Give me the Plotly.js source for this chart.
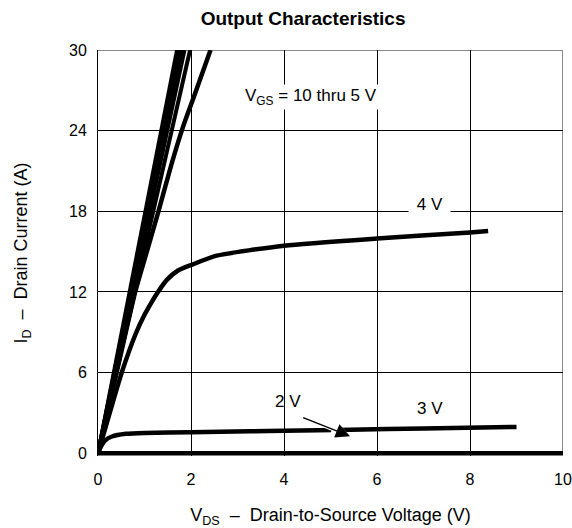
<!DOCTYPE html>
<html>
<head>
<meta charset="utf-8">
<script src="https://cdn.plot.ly/plotly-3.0.1.min.js"></script>
<style>html,body{margin:0;padding:0;background:#fff;}#chart{width:572px;height:528px;}</style>
</head>
<body>
<div id="chart"></div>
<script>
// Drain current curves (VDS in V, ID in A)
const vds10 = [0, 1.70];  const id10 = [0, 30];
const vds9  = [0, 1.75];  const id9  = [0, 30];
const vds8  = [0, 1.80];  const id8  = [0, 30];
const vds7  = [0, 1.86];  const id7  = [0, 30];
const vds6  = [0, 1.98];  const id6  = [0, 30];
const vds5  = [0, 0.4, 0.8, 1.05, 1.3, 1.58, 1.83, 2.07, 2.42];
const id5   = [0, 6.0, 12.0, 15.0, 18.0, 21.5, 24.3, 26.6, 30];
const vds4  = [0, 0.26, 0.51, 0.8, 1.0, 1.18, 1.29, 1.48, 1.72, 2.0, 2.55, 4, 6, 8, 8.39];
const id4   = [0, 3.1, 6.0, 8.8, 10.3, 11.4, 12.0, 12.9, 13.6, 14.0, 14.7, 15.44, 15.98, 16.43, 16.53];
const vds3  = [0, 0.08, 0.15, 0.3, 0.6, 1.0, 2.0, 3.27, 4, 5.42, 7, 9.0];
const id3   = [0, 0.6, 0.95, 1.25, 1.45, 1.52, 1.56, 1.64, 1.68, 1.76, 1.85, 1.96];
const vds2  = [0, 10];
const id2   = [0, 0];

const xTicks = [0, 2, 4, 6, 8, 10];
const yTicks = [0, 6, 12, 18, 24, 30];

const curveLabels = ['VGS = 10 V','VGS = 9 V','VGS = 8 V','VGS = 7 V','VGS = 6 V','VGS = 5 V','VGS = 4 V','VGS = 3 V','VGS = 2 V'];
const xs = [vds10, vds9, vds8, vds7, vds6, vds5, vds4, vds3, vds2];
const ys = [id10, id9, id8, id7, id6, id5, id4, id3, id2];

const FONT = 'Liberation Sans, Arial, Helvetica, sans-serif';

const traces = xs.map((x, i) => ({
  x: x, y: ys[i], name: curveLabels[i], type: 'scatter', mode: 'lines',
  line: {color: '#000', width: i < 5 ? 4 : 4.5, shape: 'spline', smoothing: 0.6},
  cliponaxis: false, hoverinfo: 'skip'
}));

const layout = {
  width: 572, height: 528,
  margin: {l: 98, r: 9, t: 50, b: 72},
  paper_bgcolor: '#fff', plot_bgcolor: '#fff',
  showlegend: false,
  font: {family: FONT, color: '#000', size: 16},
  title: {text: '<b>Output Characteristics</b>', font: {family: FONT, size: 19, color: '#000'},
          x: 0.441, xref: 'paper', xanchor: 'center', y: 0.966, yanchor: 'middle'},
  xaxis: {
    range: [0, 10], tickvals: xTicks, ticktext: xTicks.map(String),
    showgrid: true, gridcolor: '#000', gridwidth: 1, zeroline: false,
    showline: false,
    ticks: 'outside', ticklen: 9, tickcolor: 'rgba(0,0,0,0)',
    tickfont: {family: FONT, size: 16, color: '#000'},
    layer: 'below traces',
    title: {text: 'V<sub>DS</sub>  –  Drain-to-Source Voltage (V)', font: {family: FONT, size: 18, color: '#000'}, standoff: 21}
  },
  yaxis: {
    range: [-0.2, 30], tickvals: yTicks, ticktext: yTicks.map(String),
    showgrid: true, gridcolor: '#000', gridwidth: 1, zeroline: false,
    showline: true, linecolor: '#000', linewidth: 1,
    ticks: 'outside', ticklen: 7, tickcolor: 'rgba(0,0,0,0)',
    tickfont: {family: FONT, size: 16, color: '#000'},
    layer: 'below traces',
    title: {text: 'I<sub>D</sub>  –  Drain Current (A)', font: {family: FONT, size: 18, color: '#000'}, standoff: 36}
  },
  shapes: [
    {type: 'line', xref: 'x', yref: 'y', x0: 10, x1: 10, y0: 0, y1: 30, line: {color: '#8a8a8a', width: 2}, layer: 'below'},
    {type: 'line', xref: 'x', yref: 'y', x0: 0, x1: 10, y0: 30, y1: 30, line: {color: '#8a8a8a', width: 2}, layer: 'below'}
  ],
  annotations: [
    {x: 3.12, y: 26.5, xref: 'x', yref: 'y', xanchor: 'left', yanchor: 'middle', showarrow: false,
     text: 'V<sub>GS</sub> = 10 thru 5 V', font: {family: FONT, size: 17, color: '#000'}, bgcolor: '#fff', borderpad: 1},
    {x: 7.12, y: 18.54, xref: 'x', yref: 'y', xanchor: 'center', yanchor: 'middle', showarrow: false,
     text: '\u00a04 V\u00a0', font: {family: FONT, size: 17, color: '#000'}, bgcolor: '#fff', borderpad: 3},
    {x: 4.09, y: 3.87, xref: 'x', yref: 'y', xanchor: 'center', yanchor: 'middle', showarrow: false,
     text: '2 V', font: {family: FONT, size: 17, color: '#000'}},
    {x: 7.14, y: 3.35, xref: 'x', yref: 'y', xanchor: 'center', yanchor: 'middle', showarrow: false,
     text: '3 V', font: {family: FONT, size: 17, color: '#000'}},
    {x: 5.42, y: 1.27, ax: 4.38, ay: 2.70, xref: 'x', yref: 'y', axref: 'x', ayref: 'y', text: '',
     showarrow: true, arrowhead: 2, arrowsize: 1.1, arrowwidth: 3.5, arrowcolor: '#fff'},
    {x: 5.42, y: 1.27, ax: 4.38, ay: 2.70, xref: 'x', yref: 'y', axref: 'x', ayref: 'y', text: '',
     showarrow: true, arrowhead: 2, arrowsize: 1.9, arrowwidth: 1.5, arrowcolor: '#000'}
  ]
};

Plotly.newPlot('chart', traces, layout, {displayModeBar: false, staticPlot: true});
</script>
</body>
</html>
